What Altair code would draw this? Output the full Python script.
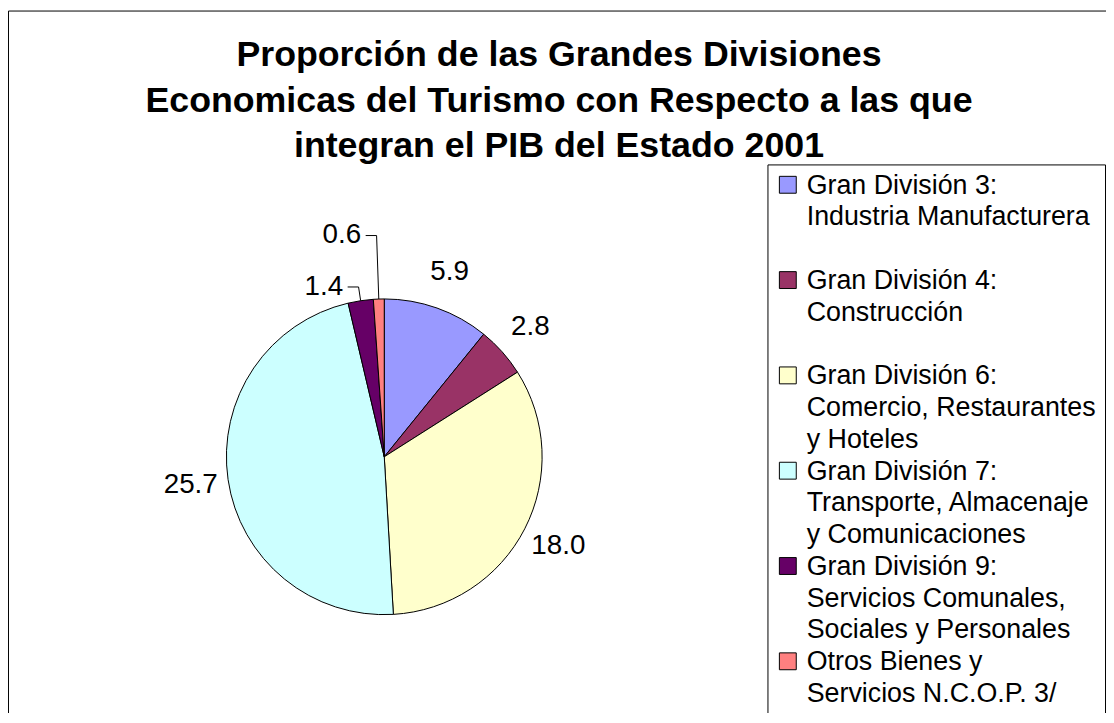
import altair as alt
import pandas as pd

# ---------------- data ----------------
categories = [
    "Gran División 3:\nIndustria Manufacturera",
    "Gran División 4:\nConstrucción",
    "Gran División 6:\nComercio, Restaurantes\ny Hoteles",
    "Gran División 7:\nTransporte, Almacenaje\ny Comunicaciones",
    "Gran División 9:\nServicios Comunales,\nSociales y Personales",
    "Otros Bienes y\nServicios N.C.O.P. 3/",
]
values = [5.9, 2.8, 18.0, 25.7, 1.4, 0.6]
colors = ["#9999FF", "#993366", "#FFFFCC", "#CCFFFF", "#660066", "#FF8080"]
title_lines = [
    "Proporción de las Grandes Divisiones",
    "Economicas del Turismo con Respecto a las que",
    "integran el PIB del Estado 2001",
]

df = pd.DataFrame({"cat": categories, "value": values, "idx": list(range(len(values)))})

# ---------------- layout / style ----------------
FONT = "Liberation Sans, Arial, sans-serif"
W, H = 1106, 705
CX, CY, R = 379, 449.5, 159          # pie centre and radius (view pixels)
LEG_X0, LEG_Y0, LEG_STEP = 765.5, 155.5, 96

color = alt.Color("cat:N", scale=alt.Scale(domain=categories, range=colors), legend=None)

base = (
    alt.Chart(df)
    .transform_window(cum="sum(value)", sort=[alt.SortField("idx")], frame=[None, 0])
    .transform_joinaggregate(total="sum(value)")
    .transform_calculate(am="(datum.cum - datum.value/2)/datum.total*2*PI")
    .transform_calculate(
        lr="datum.value < 1 ? 223 : (datum.value < 2 ? 173 : 197)",
        ldx="datum.value < 2 ? -35 : 0",
    )
)

one = alt.Data(values=[{"k": 0}])

frame = alt.Chart(one).mark_rect(fillOpacity=0, stroke="black", strokeWidth=1).encode(
    x=alt.value(0.5), x2=alt.value(3000), y=alt.value(0.5), y2=alt.value(3000)
)

legend_box = alt.Chart(one).mark_rect(fill="white", stroke="black", strokeWidth=1).encode(
    x=alt.value(LEG_X0), x2=alt.value(W - 0.5), y=alt.value(LEG_Y0), y2=alt.value(3000)
)

arcs = alt.Chart(df).mark_arc(radius=R, stroke="black", strokeWidth=1).encode(
    theta=alt.Theta("value:Q", stack=True),
    order=alt.Order("idx:Q"),
    color=color,
    x=alt.value(CX),
    y=alt.value(CY),
)

labels = (
    base.transform_calculate(
        lx=f"{CX} + datum.lr*sin(datum.am) + datum.ldx",
        ly=f"{CY} - datum.lr*cos(datum.am)",
    )
    .mark_text(font=FONT, fontSize=28, align="center", baseline="middle", color="black")
    .encode(
        x=alt.X("lx:Q", scale=None, axis=None),
        y=alt.Y("ly:Q", scale=None, axis=None),
        text=alt.Text("value:Q", format=".1f"),
    )
)

leaders = (
    base.transform_filter("datum.value < 2")
    .transform_calculate(pts="[0, 1, 2]")
    .transform_flatten(["pts"])
    .transform_calculate(
        rr=f"datum.pts == 2 ? {R} : datum.lr",
    )
    .transform_calculate(
        px=f"{CX} + datum.rr*sin(datum.am) - (datum.pts == 0 ? 11 : 0)",
        py=f"{CY} - datum.rr*cos(datum.am)",
    )
    .mark_line(color="black", strokeWidth=1)
    .encode(
        x=alt.X("px:Q", scale=None, axis=None),
        y=alt.Y("py:Q", scale=None, axis=None),
        detail="cat:N",
        order="pts:Q",
    )
)

leg = alt.Chart(df).transform_calculate(
    sy=f"{LEG_Y0} + 20 + datum.idx*{LEG_STEP}",
    ty=f"{LEG_Y0} + 29 + datum.idx*{LEG_STEP}",
)

swatches = leg.mark_square(size=289, opacity=1, stroke="black", strokeWidth=1).encode(
    x=alt.value(LEG_X0 + 20),
    y=alt.Y("sy:Q", scale=None, axis=None),
    color=color,
)

legend_text = leg.mark_text(
    font=FONT, fontSize=27, align="left", baseline="alphabetic",
    lineBreak="\n", lineHeight=32, color="black",
).encode(
    x=alt.value(LEG_X0 + 39),
    y=alt.Y("ty:Q", scale=None, axis=None),
    text="cat:N",
)

chart = (
    alt.layer(frame, legend_box, arcs, leaders, labels, swatches, legend_text)
    .properties(
        width=W,
        height=H,
        padding=0,
        autosize=alt.AutoSizeParams(type="none"),
        background="white",
        title=alt.TitleParams(
            text=title_lines,
            font=FONT,
            fontSize=36,
            fontWeight="bold",
            color="black",
            anchor="middle",
            frame="group",
            baseline="alphabetic",
            lineHeight=46,
            offset=-184,
            dx=2,
        ),
    )
    .configure_view(stroke=None)
)

chart.save("out.html", embed_options={"renderer": "svg", "actions": False})
